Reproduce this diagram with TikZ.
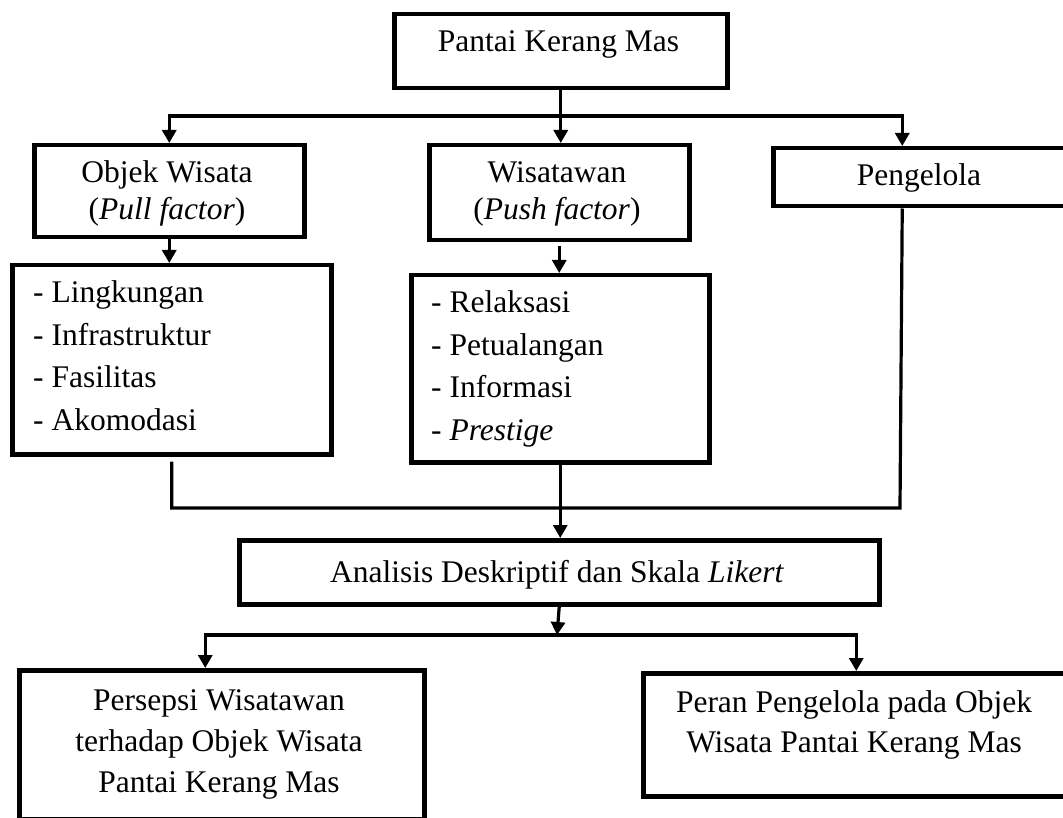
\documentclass[tikz,border=0pt]{standalone}
\usepackage{fontspec}
\setmainfont{Liberation Serif}
\usetikzlibrary{arrows.meta}

\begin{document}
\begin{tikzpicture}[x=1pt, y=-1pt,
            kotak/.style={rectangle, draw=black, line width=4.5pt, anchor=north west, inner sep=0pt},
            teks/.style={font=\fontsize{31.5}{42.5}\selectfont, inner sep=0pt, anchor=base, align=center},
            daftar/.style={teks, anchor=base west, align=left},
            garis/.style={line width=3.2pt},
            panah/.style={garis, -{Triangle[width=14pt, length=13pt]}}
        ]
            \useasboundingbox (0,0) rectangle (1063,818);
            % kotak
            \node(kerangnode) at (392,12) [kotak, minimum width=333pt, minimum height=74pt] {};
            \node(objeknode) at (32,143) [kotak, minimum width=270pt, minimum height=92pt] {};
            \node(wisatawannode) at (427,143) [kotak, minimum width=260pt, minimum height=95pt] {};
            \node(pengelolanode) at (771,146) [kotak, minimum width=296pt, minimum height=58pt] {};
            \node(daftarobjek) at (10,263) [kotak, minimum width=319pt, minimum height=189pt] {};
            \node(daftarwisatawan) at (409,273) [kotak, minimum width=298pt, minimum height=187pt] {};
            \node(analisisnode) at (237,538) [kotak, minimum width=640pt, minimum height=64pt] {};
            \node(persepsinode) at (17,668) [kotak, minimum width=405pt, minimum height=149pt] {};
            \node(perannode) at (641,671) [kotak, minimum width=426pt, minimum height=123pt] {};
            % teks (base = baris terakhir)
            \node(kerangteks) at (558.5,52) [teks] {Pantai Kerang Mas};
            \node(objekteks) at (167,220) [teks] {Objek Wisata\\[-5.5pt](\textit{Pull factor})};
            \node(wisatawanteks) at (557,220) [teks] {Wisatawan\\[-5.5pt](\textit{Push factor})};
            \node(pengelolateks) at (919,186) [teks] {Pengelola};
            \node(daftarobjekteks) at (33,430) [daftar] {- Lingkungan\\- Infrastruktur\\- Fasilitas\\- Akomodasi};
            \node(daftarwisatawanteks) at (431,440) [daftar] {- Relaksasi\\- Petualangan\\- Informasi\\- \textit{Prestige}};
            \node(analisisteks) at (557,582) [teks] {Analisis Deskriptif dan Skala \textit{Likert}};
            \node(persepsiteks) at (219,792) [teks] {Persepsi Wisatawan\\[-1.5pt]terhadap Objek Wisata\\[-1.5pt]Pantai Kerang Mas};
            \node(peranteks) at (854,752) [teks] {Peran Pengelola pada Objek\\[-2.5pt]Wisata Pantai Kerang Mas};
            % garis
            \coordinate(cabangatas) at (558.5,116);
            \coordinate(gabung) at (900,508);
            \coordinate(cabangbawah) at (557,635);
            \draw[panah] (kerangnode.south) -- (kerangnode.south |- wisatawannode.north);
            \draw[panah] (cabangatas) -| (objeknode.north);
            \draw[panah] (cabangatas) -| ([xshift=-19pt]pengelolanode.north);
            \draw[panah] (objeknode.south) -- (objeknode.south |- daftarobjek.north);
            \draw[panah, shorten <=4pt] (wisatawannode.south) -- (wisatawannode.south |- daftarwisatawan.north);
            \draw[garis, shorten <=5pt] (daftarobjek.south) |- (gabung) -- ([xshift=-19pt]pengelolanode.south);
            \draw[panah] (daftarwisatawan.south) -- (daftarwisatawan.south |- analisisnode.north);
            \draw[panah] (analisisnode.south) -- (cabangbawah);
            \draw[panah] (cabangbawah) -| ([xshift=-16.5pt]persepsinode.north);
            \draw[panah] (cabangbawah) -| (perannode.north);
        \end{tikzpicture}
\end{document}
